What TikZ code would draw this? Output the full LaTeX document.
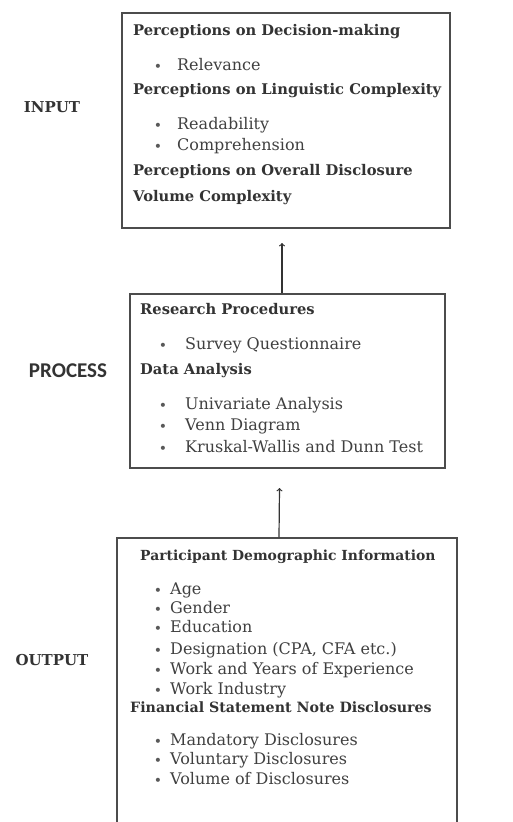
\documentclass[tikz,border=0pt]{standalone}
\usepackage{fontspec}
\setmainfont{DejaVu Serif}
\newfontfamily\sidesans{Carlito}

\begin{document}
\begin{tikzpicture}[x=1pt, y=-1pt,
  box/.style={draw=black!70, line width=1.3pt, inner sep=0pt},
  headstyle/.style={anchor=mid west, inner sep=0pt, text=black!80, font=\bfseries\fontsize{14.7}{17}\selectfont},
  itemstyle/.style={anchor=mid west, inner sep=0pt, text=black!75, font=\fontsize{16}{18}\selectfont},
  dotstyle/.style={inner sep=0pt, text=black!65, font=\fontsize{14}{16}\selectfont},
  sidestyle/.style={inner sep=0pt, text=black!80, font=\bfseries\fontsize{15}{17}\selectfont}]

  \clip (0,0) rectangle (513,822);
  \fill [white] (0,0) rectangle (513,822);

  % the three boxes
  \node [box, minimum width=328pt, minimum height=215pt] (input) at (286,120.5) {};
  \node [box, minimum width=315pt, minimum height=174pt] (process) at (287.5,381) {};
  \node [box, minimum width=340pt, minimum height=320pt] (output) at (287,698) {};

  \draw [->, line width=1.2pt, black!80] ([xshift=-5.5pt]process.north) -- ([xshift=-4pt]input.south |- 0,243) coordinate (tipa);
  \draw [->, line width=1.2pt, black!80] ([xshift=-8pt]output.north) -- ([xshift=-8pt]process.south |- 0,488) coordinate (tipb);

  % side labels
  \node [sidestyle] (lblin) at (52,107) {INPUT};
  \node [sidestyle, font=\sidesans\bfseries\fontsize{21}{23}\selectfont] (lblproc) at (68,371) {PROCESS};
  \node [sidestyle] (lblout) at (52,660) {OUTPUT};

  % input box
  \node [headstyle] (hdec) at (133,33) {Perceptions on Decision-making};
  \node [headstyle] (hling) at (133,92) {Perceptions on Linguistic Complexity};
  \node [headstyle] (hvol) at (133,173) {Perceptions on Overall Disclosure};
  \node [headstyle] (hvolb) at (133,199) {Volume Complexity};
  \foreach \y/\txt [count=\i] in {68/Relevance, 127/Readability, 148/Comprehension} {
    \node [dotstyle] (ind\i) at (158,\y) {\textbullet};
    \node [itemstyle] (init\i) at (177,\y) {\txt};
  }

  % process box
  \node [headstyle] (hres) at (140,312) {Research Procedures};
  \node [headstyle] (hdata) at (140,372) {Data Analysis};
  \foreach \y/\txt [count=\i] in {347/Survey Questionnaire, 407/Univariate Analysis, 428/Venn Diagram, 450/Kruskal-Wallis and Dunn Test} {
    \node [dotstyle] (prd\i) at (163,\y) {\textbullet};
    \node [itemstyle] (prit\i) at (185,\y) {\txt};
  }

  % output box
  \node [headstyle, font=\bfseries\fontsize{13.9}{16}\selectfont] (hpart) at (140,558) {Participant Demographic Information};
  \node [headstyle, font=\bfseries\fontsize{14.2}{16}\selectfont] (hfin) at (130,710) {Financial Statement Note Disclosures};
  \foreach \y/\txt [count=\i] in {592/Age, 611/Gender, 630/Education, 652/{Designation (CPA, CFA etc.)}, 672/Work and Years of Experience, 692/Work Industry, 743/Mandatory Disclosures, 762/Voluntary Disclosures, 782/Volume of Disclosures} {
    \node [dotstyle] (oud\i) at (158,\y) {\textbullet};
    \node [itemstyle] (ouit\i) at (170,\y) {\txt};
  }

\end{tikzpicture}
\end{document}
